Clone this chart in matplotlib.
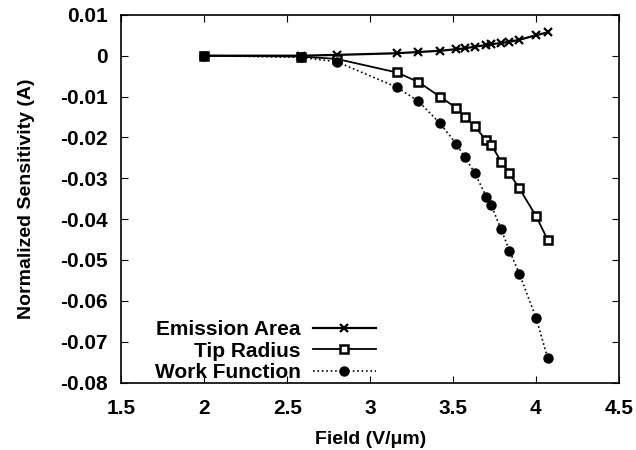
import matplotlib
matplotlib.use("Agg")
import matplotlib.pyplot as plt

# field values (V/um)
field = [2.0, 2.58, 2.8, 3.16, 3.29, 3.42, 3.52, 3.57, 3.63, 3.70, 3.73, 3.79, 3.84, 3.90, 4.0, 4.07]

emission_area = [0.0, 0.0, 0.0002, 0.0006, 0.0009, 0.0012, 0.0016, 0.0018, 0.0022,
                 0.0026, 0.0028, 0.0031, 0.0034, 0.0039, 0.0050, 0.0057]
tip_radius = [0.0, -0.0002, -0.0008, -0.0041, -0.0064, -0.0100, -0.0128, -0.0150, -0.0173,
              -0.0207, -0.0218, -0.0259, -0.0288, -0.0325, -0.0392, -0.0450]
work_function = [0.0, -0.0004, -0.0015, -0.0077, -0.0111, -0.0165, -0.0216, -0.0248, -0.0286,
                 -0.0345, -0.0366, -0.0425, -0.0477, -0.0534, -0.0641, -0.0739]

xticks = [1.5, 2, 2.5, 3, 3.5, 4, 4.5]
yticks = [0.01, 0, -0.01, -0.02, -0.03, -0.04, -0.05, -0.06, -0.07, -0.08]

plt.rcParams["font.family"] = ["Liberation Sans", "DejaVu Sans"]
plt.rcParams["font.weight"] = "bold"

fig = plt.figure(figsize=(6.36, 4.5), dpi=100)
ax = fig.add_axes([0.191, 0.150, 0.782, 0.817])

ax.plot(field, emission_area, color="black", lw=1.6, marker="x", ms=6, mew=1.6,
        label="Emission Area")
ax.plot(field, tip_radius, color="black", lw=1.3, marker="s", ms=6, mew=1.8,
        mfc="white", label="Tip Radius")
ax.plot(field, work_function, color="black", lw=1.2, ls=":", marker="o", ms=6.5,
        label="Work Function")

ax.set_xlim(1.5, 4.5)
ax.set_ylim(-0.08, 0.01)
ax.set_xticks(xticks)
ax.set_xticklabels([f"{t:g}" for t in xticks])
ax.set_yticks(yticks)
ax.set_yticklabels([f"{t:g}" for t in yticks])
ax.tick_params(direction="in", top=True, right=True, length=5, labelsize=15)
ax.tick_params(axis="x", pad=12)
ax.tick_params(axis="y", pad=10)
for s in ax.spines.values():
    s.set_linewidth(1.2)

ax.set_xlabel("Field (V/\u03bcm)", fontsize=14, fontweight="bold", labelpad=9)
ax.set_ylabel("Normalized Sensitivity (A)", fontsize=14, fontweight="bold", labelpad=18)

leg = ax.legend(loc="lower left", markerfirst=False, frameon=False, fontsize=15,
                handlelength=3.0, handletextpad=0.6, borderaxespad=0.0,
                labelspacing=0.12, bbox_to_anchor=(0.05, -0.022))
for t in leg.get_texts():
    t.set_ha("right")
leg._legend_box.align = "right"

plt.savefig("out.png", dpi=100)
